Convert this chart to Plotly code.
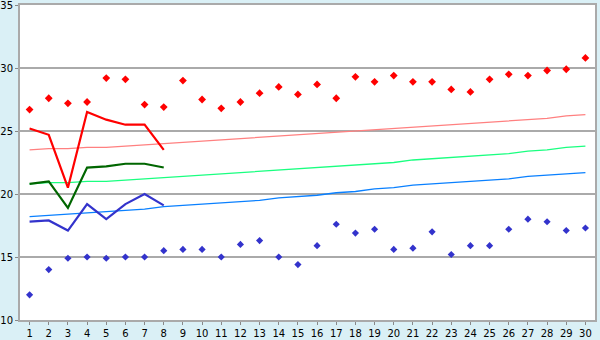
import plotly.graph_objects as go

days = list(range(1, 31))

max_points = [26.7, 27.6, 27.2, 27.3, 29.2, 29.1, 27.1, 26.9, 29.0, 27.5,
              26.8, 27.3, 28.0, 28.5, 27.9, 28.7, 27.6, 29.3, 28.9, 29.4,
              28.9, 28.9, 28.3, 28.1, 29.1, 29.5, 29.4, 29.8, 29.9, 30.8]
min_points = [12.0, 14.0, 14.9, 15.0, 14.9, 15.0, 15.0, 15.5, 15.6, 15.6,
              15.0, 16.0, 16.3, 15.0, 14.4, 15.9, 17.6, 16.9, 17.2, 15.6,
              15.7, 17.0, 15.2, 15.9, 15.9, 17.2, 18.0, 17.8, 17.1, 17.3]

obs_days = [1, 2, 3, 4, 5, 6, 7, 8]
obs_max = [25.2, 24.7, 20.5, 26.5, 25.9, 25.5, 25.5, 23.5]
obs_mean = [20.8, 21.0, 18.9, 22.1, 22.2, 22.4, 22.4, 22.1]
obs_min = [17.8, 17.9, 17.1, 19.2, 18.0, 19.2, 20.0, 19.1]

norm_max = [23.5, 23.6, 23.6, 23.7, 23.7, 23.8, 23.9, 24.0, 24.1, 24.2,
            24.3, 24.4, 24.5, 24.6, 24.7, 24.8, 24.9, 25.0, 25.1, 25.2,
            25.3, 25.4, 25.5, 25.6, 25.7, 25.8, 25.9, 26.0, 26.2, 26.3]
norm_mean = [20.8, 20.9, 20.9, 21.0, 21.0, 21.1, 21.2, 21.3, 21.4, 21.5,
             21.6, 21.7, 21.8, 21.9, 22.0, 22.1, 22.2, 22.3, 22.4, 22.5,
             22.7, 22.8, 22.9, 23.0, 23.1, 23.2, 23.4, 23.5, 23.7, 23.8]
norm_min = [18.2, 18.3, 18.4, 18.5, 18.6, 18.7, 18.8, 19.0, 19.1, 19.2,
            19.3, 19.4, 19.5, 19.7, 19.8, 19.9, 20.1, 20.2, 20.4, 20.5,
            20.7, 20.8, 20.9, 21.0, 21.1, 21.2, 21.4, 21.5, 21.6, 21.7]

fig = go.Figure()
fig.add_trace(go.Scatter(x=days, y=norm_max, mode="lines", line=dict(color="#ff8080", width=1.3)))
fig.add_trace(go.Scatter(x=days, y=norm_mean, mode="lines", line=dict(color="#1aff80", width=1.3)))
fig.add_trace(go.Scatter(x=days, y=norm_min, mode="lines", line=dict(color="#0a80ff", width=1.3)))
fig.add_trace(go.Scatter(x=obs_days, y=obs_max, mode="lines", line=dict(color="#ff0000", width=2.2)))
fig.add_trace(go.Scatter(x=obs_days, y=obs_mean, mode="lines", line=dict(color="#006600", width=2.2)))
fig.add_trace(go.Scatter(x=obs_days, y=obs_min, mode="lines", line=dict(color="#3333cc", width=2.2)))
fig.add_trace(go.Scatter(x=days, y=max_points, mode="markers",
                         marker=dict(symbol="diamond", size=6, color="#ff0000")))
fig.add_trace(go.Scatter(x=days, y=min_points, mode="markers",
                         marker=dict(symbol="diamond", size=5.5, color="#3333cc")))

fig.update_layout(
    width=600, height=340,
    margin=dict(l=20, r=5, t=5, b=20),
    paper_bgcolor="#daf0f6",
    plot_bgcolor="#ffffff",
    showlegend=False,
    font=dict(family="DejaVu Sans", size=10, color="#000000"),
)
fig.update_xaxes(range=[0.5, 30.5], tickmode="array", tickvals=days,
                 ticktext=[str(d) for d in days], showgrid=False, automargin=False,
                 showline=True, linecolor="#aaaaaa", linewidth=2, mirror=True,
                 ticks="outside", ticklen=3, tickcolor="#888888", zeroline=False,
                 tickfont=dict(size=10), ticklabeloverflow="allow")
fig.update_yaxes(range=[10, 35], dtick=5, showgrid=True, gridcolor="#aaaaaa",
                 gridwidth=1.5, showline=True, linecolor="#aaaaaa", linewidth=2,
                 mirror=True, ticks="outside", ticklen=3, tickcolor="#888888",
                 zeroline=False, tickfont=dict(size=10), automargin=False,
                 ticklabeloverflow="allow")

fig.write_html("out.html")
